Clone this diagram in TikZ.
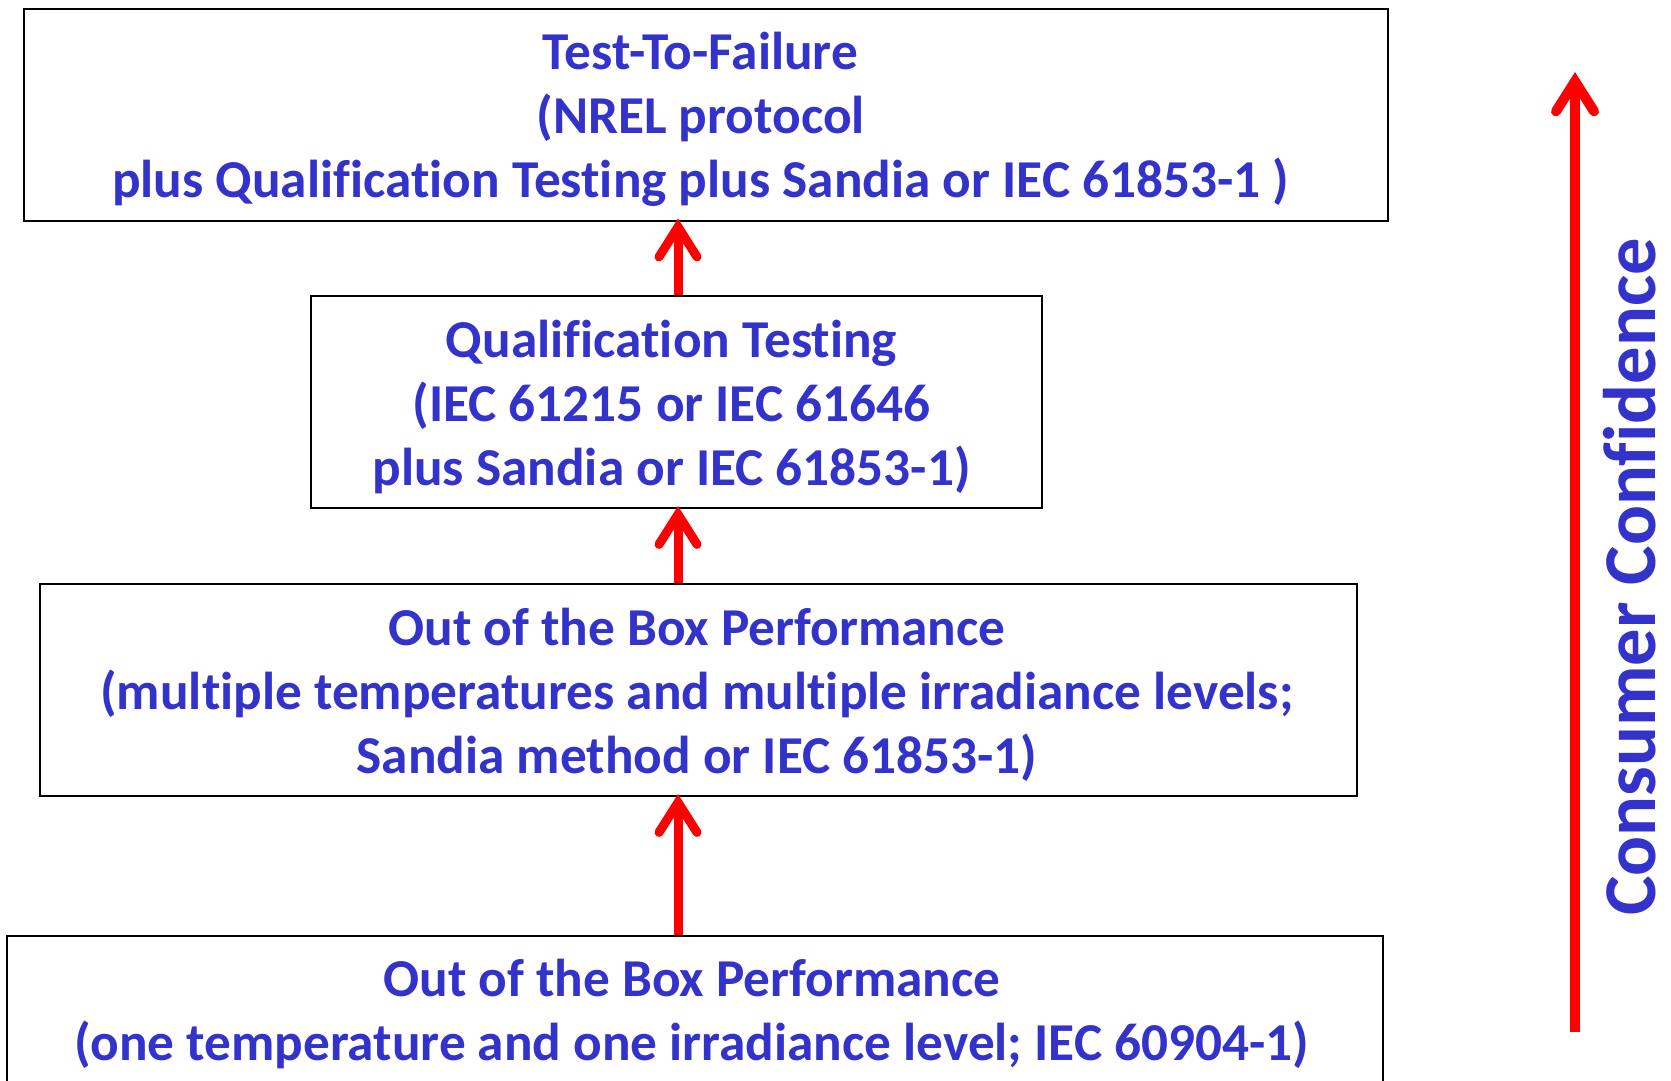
\documentclass[tikz,border=0pt]{standalone}
\usepackage{fontspec}
\setmainfont{Carlito}[Ligatures=NoCommon]
\usetikzlibrary{arrows.meta}
\definecolor{txtblue}{RGB}{51,51,204}
\tikzset{
  box/.style={draw=black, line width=2pt, rectangle, inner sep=0pt,
    text=txtblue, align=center,
    font=\fontsize{53.3}{64}\selectfont\bfseries},
  uparrow/.style={draw=red, line width=9pt,
    -{Straight Barb[length=30pt,width=38pt,line cap=round,line join=miter]}},
}
\begin{document}
\begin{tikzpicture}[x=1pt,y=-1pt]
\useasboundingbox (0,0) rectangle (1671,1080);
\clip (0,0) rectangle (1671,1080);
\node[box, minimum width=1364pt, minimum height=212pt] (b1) at (705.5,114.5) {};
\node[box, minimum width=731pt, minimum height=212pt] (b2) at (676.5,402) {};
\node[box, minimum width=1317pt, minimum height=212pt] (b3) at (698,690) {};
\node[box, minimum width=1376pt, minimum height=212pt] (b4) at (695,1042) {};
\node[box, draw=none] (t1) at ([xshift=-5pt,yshift=-4.5pt]b1.center)
  {Test-To-Failure\\(NREL protocol\\plus Qualification Testing plus Sandia or IEC 61853-1 )};
\node[box, draw=none] (t2) at ([xshift=-5pt,yshift=-4.5pt]b2.center)
  {Qualification Testing\\(IEC 61215 or IEC 61646\\plus Sandia or IEC 61853-1)};
\node[box, draw=none] (t3) at ([xshift=-1pt,yshift=-4.5pt]b3.center)
  {Out of the Box Performance\\(multiple temperatures and multiple irradiance levels;\\Sandia method or IEC 61853-1)};
\node[box, draw=none] (t4) at ([xshift=-3pt,yshift=-9.5pt]b4.center)
  {Out of the Box Performance\\(one temperature and one irradiance level; IEC 60904-1)\\\strut};
\coordinate (ax) at (678,0);
\draw[uparrow] (b2.north -| ax) -- ([yshift=3pt]b1.south -| ax);
\draw[uparrow] (b3.north -| ax) -- ([yshift=3pt]b2.south -| ax);
\draw[uparrow] (b4.north -| ax) -- ([yshift=3pt]b3.south -| ax);
\coordinate (cb) at (1575,1032);
\coordinate (ct) at (1575,72);
\draw[uparrow, line width=10pt] (cb) -- (ct);
\node[text=txtblue, rotate=90, font=\fontsize{74.5}{80}\selectfont\bfseries, inner sep=0pt]
  (cc) at (1630,577) {Consumer Confidence};
\end{tikzpicture}
\end{document}
